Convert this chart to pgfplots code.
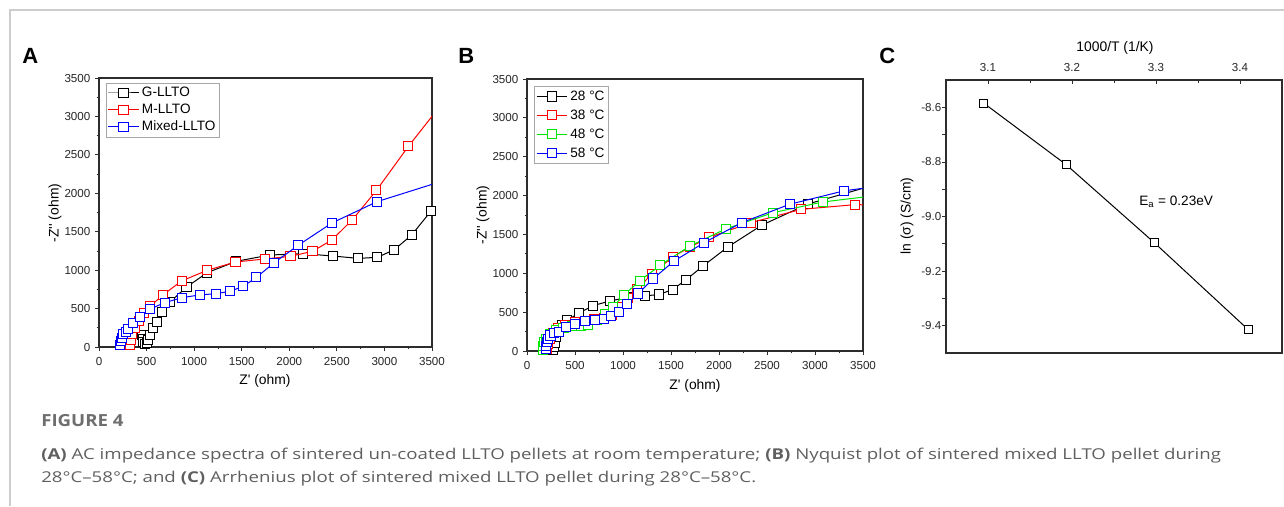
\documentclass[border=0pt]{standalone}
\usepackage{fontspec}
\usepackage{pgfplots}
\pgfplotsset{compat=1.18}
\newfontfamily\arial{Liberation Sans}
\newfontfamily\capfont{Open Sans}[FakeStretch=1.25]
\newfontfamily\figfont{Open Sans}[FakeStretch=1.12]
\definecolor{axgrey}{RGB}{45,45,45}
\definecolor{frame}{RGB}{205,205,205}
\definecolor{capgrey}{RGB}{95,95,95}
\definecolor{figgrey}{RGB}{110,110,110}
\definecolor{ogreen}{RGB}{0,230,0}

\newcommand\tickfont{\arial\fontsize{8.7bp}{10bp}\selectfont}
\newcommand\labfont{\arial\fontsize{10.4bp}{12bp}\selectfont}

\pgfplotsset{panel/.style={
  scale only axis, anchor=south west,
  axis line style={axgrey, line width=0.8bp},
  tick style={axgrey, line width=0.6bp},
  tick align=outside, major tick length=3bp, minor tick length=1.8bp,
  xtick pos=lower, ytick pos=left,
  minor x tick num=1, minor y tick num=1,
  tick label style={font=\tickfont, color=black!85},
  xticklabel style={yshift=-1.5bp},
  /pgf/number format/assume math mode=true,
  /pgf/number format/1000 sep={},
  clip mode=individual,
  legend cell align=left,
  legend style={draw=gray!70, line width=0.6bp, font=\arial\fontsize{10.2bp}{12bp}\selectfont,
    inner sep=1.2bp, row sep=0bp,
    legend image code/.code={\draw[mark repeat=2,mark phase=2,##1] plot coordinates {(0bp,0bp) (11.5bp,0bp) (23bp,0bp)};}},
  every axis plot/.append style={line width=0.75bp, mark=square*, mark size=3.4bp, mark options={fill=white, solid}},
}}

\begin{document}
\begin{tikzpicture}[x=0.75bp,y=-0.75bp]
\useasboundingbox (0,0) rectangle (1284,506);
\draw[frame, line width=1.5bp] (10,506) -- (10,10) -- (1284,10);

% ---------- A ----------
\begin{axis}[panel, at={(74.25bp,-260.25bp)}, width=249.75bp, height=201.75bp,
  xmin=0, xmax=3500, ymin=0, ymax=3500,
  xtick={0,500,...,3500}, ytick={0,500,...,3500},
  legend style={at={(0.02,0.983)}, anchor=north west}]
\addplot[black] coordinates {(449,156) (458,110) (466,69) (483,45) (500,50) (518,95) (536,156) (571,243) (606,329) (659,459) (750,590) (920,780) (1137,967) (1442,1115) (1795,1197) (2149,1214) (2460,1184) (2726,1153) (2926,1167) (3104,1266) (3286,1457) (3493,1774) (3560,1880)};
\addplot[red] coordinates {(325,22) (335,95) (350,170) (378,250) (420,340) (470,440) (535,529) (676,681) (868,859) (1134,997) (1435,1106) (1743,1145) (2013,1180) (2244,1245) (2447,1392) (2664,1657) (2916,2038) (3252,2611) (3560,3095)};
\addplot[blue] coordinates {(221,26) (230,75) (240,120) (256,165) (280,200) (308,230) (354,308) (431,394) (536,495) (694,578) (871,642) (1057,677) (1228,694) (1375,724) (1515,789) (1655,906) (1837,1093) (2093,1323) (2447,1613) (2922,1891) (3600,2155)};
\legend{G-LLTO, M-LLTO, Mixed-LLTO}
\end{axis}

% ---------- B ----------
\begin{axis}[panel, at={(395.25bp,-263.25bp)}, width=252bp, height=204bp,
  xmin=0, xmax=3500, ymin=0, ymax=3500,
  xtick={0,500,...,3500}, ytick={0,500,...,3500},
  legend style={at={(0.021,0.974)}, anchor=north west, row sep=1.6bp}]
\addplot[black] coordinates {(272,15) (278,55) (286,100) (300,175) (326,270) (365,335) (420,396) (542,490) (691,585) (868,645) (1050,690) (1233,710) (1375,727) (1517,791) (1656,916) (1837,1097) (2090,1337) (2448,1621) (2927,1892) (3600,2129)};
\addplot[red] coordinates {(205,30) (215,90) (235,160) (270,230) (320,290) (400,330) (500,370) (600,390) (700,410) (800,430) (880,470) (960,560) (1050,680) (1150,800) (1300,990) (1521,1213) (1700,1340) (1896,1462) (2330,1651) (2857,1823) (3413,1883) (3600,1880)};
\addplot[ogreen] coordinates {(163,15) (170,60) (180,110) (200,160) (235,215) (300,270) (380,300) (470,320) (560,325) (640,340) (725,400) (810,475) (896,568) (1007,718) (1174,903) (1389,1105) (1694,1350) (2076,1574) (2562,1780) (3083,1918) (3600,1995)};
\addplot[blue] coordinates {(193,25) (198,65) (206,110) (220,160) (245,200) (285,235) (333,250) (410,310) (503,353) (604,383) (705,396) (802,417) (878,452) (955,503) (1045,602) (1160,740) (1316,933) (1531,1157) (1844,1393) (2236,1651) (2736,1888) (3299,2060) (3600,2111)};
\legend{28 °C, 38 °C, 48 °C, 58 °C}
\end{axis}

% ---------- C ----------
\begin{axis}[panel, at={(709.5bp,-264.75bp)}, width=252bp, height=204.75bp,
  xmin=3.05, xmax=3.45, ymin=-9.5, ymax=-8.5,
  xtick={3.1,3.2,3.3,3.4}, ytick={-9.4,-9.2,-9.0,-8.8,-8.6},
  xtick pos=upper, xticklabel pos=upper,
  tick align=inside, major tick length=3bp, minor tick length=2bp,
  ytick style={xshift=-3bp},
  xticklabel style={yshift=4.5bp, /pgf/number format/fixed, /pgf/number format/precision=1},
  yticklabel style={/pgf/number format/fixed, /pgf/number format/fixed zerofill, /pgf/number format/precision=1},
  every axis plot/.append style={mark size=3.1bp}]
\addplot[black] coordinates {(3.095,-8.585) (3.193,-8.810) (3.298,-9.096) (3.410,-9.415)};
\node[font=\arial\fontsize{10.2bp}{12bp}\selectfont] at (axis cs:3.324,-8.946) {E\textsubscript{a} = 0.23eV};
\end{axis}

% axis titles
\node[font=\labfont, rotate=90] at (55,213) {-Z'' (ohm)};
\node[font=\labfont] at (265,381) {Z' (ohm)};
\node[font=\labfont, rotate=90] at (483,215) {-Z'' (ohm)};
\node[font=\labfont] at (695,386) {Z' (ohm)};
\node[font=\labfont, rotate=90] at (907,216) {ln (σ) (S/cm)};
\node[font=\labfont] at (1115,48) {1000/T (1/K)};

% panel letters
\node[font=\arial\bfseries\fontsize{16.5bp}{18bp}\selectfont, anchor=base west, inner sep=0pt] at (22,63) {A};
\node[font=\arial\bfseries\fontsize{16.5bp}{18bp}\selectfont, anchor=base west, inner sep=0pt] at (458,63) {B};
\node[font=\arial\bfseries\fontsize{16.5bp}{18bp}\selectfont, anchor=base west, inner sep=0pt] at (879,63) {C};

% caption
\node[font=\figfont\bfseries\fontsize{12.5bp}{15bp}\selectfont, text=figgrey, anchor=base west, inner sep=0pt] at (41,426) {FIGURE 4};
\node[font=\capfont\fontsize{11.2bp}{13bp}\selectfont, text=capgrey, anchor=base west, inner sep=0pt] at (41,459)
  {{\bfseries(A)} AC impedance spectra of sintered un-coated LLTO pellets at room temperature; {\bfseries(B)} Nyquist plot of sintered mixed LLTO pellet during};
\node[font=\capfont\fontsize{11.2bp}{13bp}\selectfont, text=capgrey, anchor=base west, inner sep=0pt] at (41,482)
  {28°C–58°C; and {\bfseries(C)} Arrhenius plot of sintered mixed LLTO pellet during 28°C–58°C.};
\end{tikzpicture}
\end{document}
